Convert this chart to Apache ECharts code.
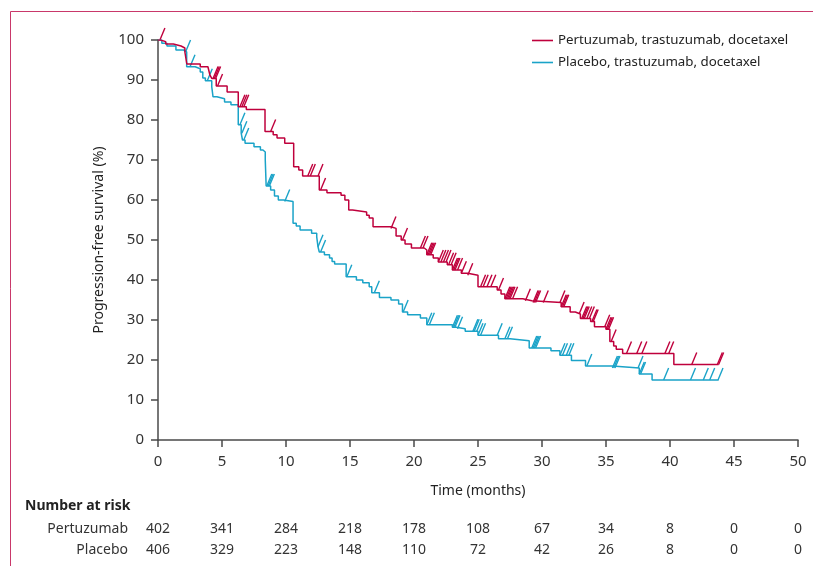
<!DOCTYPE html>
<html>
<head>
<meta charset="utf-8">
<script src="https://cdn.jsdelivr.net/npm/echarts@6/dist/echarts.min.js"></script>
<style>
html,body{margin:0;padding:0;background:#fff;}
#c{width:813px;height:566px;}
</style>
</head>
<body>
<div id="c"></div>
<script>
// ---- Data ----
const pertTimes = [0, 0.2, 0.6, 1.2, 1.8, 2.1, 2.25, 3.3, 3.9, 4.05, 4.2, 4.55, 5.4, 6.27, 6.9, 8.36, 9.0, 9.3, 9.9, 10.6, 11.0, 11.3, 12.6, 13.2, 14.3, 14.6, 14.9, 15.2, 16.3, 16.5, 16.8, 18.2, 18.6, 19.0, 19.3, 19.8, 20.8, 21.0, 21.5, 21.9, 22.6, 23.0, 23.7, 24.2, 25.0, 26.5, 26.8, 27.1, 28.5, 29.2, 31.5, 32.2, 32.6, 33.0, 33.8, 34.1, 35.0, 35.3, 35.6, 35.8, 36.3, 40.3, 43.8];
const pertSurv  = [100, 99.6, 99, 98.5, 98, 97, 94, 93.3, 92.9, 91.3, 90.4, 88.5, 87, 83.3, 82.6, 77.1, 76.3, 75.5, 74.2, 68.3, 67.5, 66, 62.5, 61.8, 61.2, 60, 57.5, 57, 56.2, 55.5, 53.3, 52.9, 51, 50, 49, 48, 47.5, 46.3, 45.5, 44.5, 43.8, 42.5, 41.7, 41.2, 38.3, 37.5, 36.5, 35.3, 34.8, 34.4, 33.3, 32, 31.5, 30.4, 29.6, 28.3, 27.7, 24.6, 23.5, 22.7, 21.6, 18.9, 18.9];
const pertCensor = [0.15, 4.3, 4.4, 4.5, 4.65, 6.4, 6.55, 6.7, 8.8, 11.7, 11.9, 12.5, 12.7, 18.2, 19.1, 20.5, 20.7, 21.0, 21.1, 21.2, 21.3, 21.9, 22.1, 22.3, 22.5, 22.7, 22.9, 23.0, 23.1, 23.2, 23.4, 23.7, 24.2, 25.2, 25.4, 25.7, 26.0, 26.6, 27.1, 27.2, 27.3, 27.4, 27.5, 27.7, 28.7, 29.3, 29.4, 29.5, 30.1, 31.4, 31.5, 31.6, 31.7, 32.9, 33.1, 33.2, 33.3, 33.5, 33.7, 33.9, 34.0, 34.9, 35.0, 35.1, 35.2, 35.4, 36.6, 37.4, 37.8, 39.6, 39.9, 41.7, 43.7, 43.8];

const placTimes = [0, 0.3, 0.7, 1.4, 2.0, 2.24, 2.9, 3.3, 3.5, 3.7, 4.2, 4.3, 4.6, 5.2, 5.7, 6.27, 6.5, 6.6, 6.8, 7.5, 8.0, 8.2, 8.38, 8.45, 8.8, 9.1, 9.4, 9.8, 10.55, 10.8, 11.1, 12.0, 12.4, 12.5, 12.6, 13.0, 13.4, 13.6, 13.8, 14.7, 15.5, 16.0, 16.5, 16.7, 17.3, 18.2, 18.8, 19.1, 19.5, 20.5, 21.0, 23.0, 23.3, 24.0, 25.0, 26.6, 27.5, 29.0, 30.7, 31.4, 32.3, 33.4, 35.5, 37.6, 38.6, 43.8];
const placSurv  = [100, 99.2, 98.5, 97.5, 97, 93.3, 92.8, 92, 90.5, 89.8, 88.3, 85.8, 85.3, 84.5, 83.8, 78.8, 76.7, 75, 74.2, 73.3, 72.5, 72, 70, 63.5, 62.5, 61, 60, 59.6, 54.2, 53.5, 52.5, 51.7, 50.8, 48.3, 47, 46.3, 45.5, 44.6, 44, 40.8, 40, 39.3, 38.3, 36.8, 35.6, 35, 34, 32, 31.3, 30.5, 28.8, 28.2, 27.8, 27.2, 26.2, 25.3, 24.8, 23, 22.3, 21.2, 19.9, 18.5, 18, 16.5, 15, 15];
const placCensor = [2.15, 2.5, 3.85, 6.4, 6.55, 6.7, 8.5, 8.6, 8.7, 9.9, 12.5, 12.7, 14.75, 16.9, 19.15, 21.0, 21.2, 23.0, 23.1, 23.2, 23.4, 24.6, 24.7, 24.9, 25.0, 25.2, 26.5, 27.1, 27.3, 29.2, 29.3, 29.4, 29.5, 31.4, 31.6, 31.9, 32.1, 33.5, 35.5, 35.6, 35.7, 37.5, 37.6, 37.7, 39.5, 41.6, 42.6, 43.1, 43.75];

const riskTimes = [0, 5, 10, 15, 20, 25, 30, 35, 40, 45, 50];
const pertRisk  = [402, 341, 284, 218, 178, 108, 67, 34, 8, 0, 0];
const placRisk  = [406, 329, 223, 148, 110, 72, 42, 26, 8, 0, 0];
const riskRows  = ['Pertuzumab', 'Placebo'];
const seriesNames = ['Pertuzumab, trastuzumab, docetaxel', 'Placebo, trastuzumab, docetaxel'];

// ---- Styles ----
const RED = '#bf003c';
const BLUE = '#1aa3c8';
const FONT = 'Noto Sans';
const AXIS = '#4a4a4a';
const TXT = '#333';

function survAt(times, surv, t) {
  let v = surv[0];
  for (let i = 0; i < times.length; i++) { if (times[i] <= t) v = surv[i]; else break; }
  return v;
}
const zip = (a, b) => a.map((t, i) => [t, b[i]]);

function censorSeries(name, times, surv, cens, color) {
  return {
    type: 'custom', name: name + ' censored', xAxisIndex: 0, yAxisIndex: 0,
    data: cens.map(t => [t, survAt(times, surv, t)]),
    encode: { x: 0, y: 1 }, z: 3,
    renderItem: function (params, api) {
      const p = api.coord([api.value(0), api.value(1)]);
      return { type: 'line', shape: { x1: p[0], y1: p[1], x2: p[0] + 5, y2: p[1] - 12 },
               style: { stroke: color, lineWidth: 1.4 } };
    }
  };
}
function riskSeries(rowIdx, counts) {
  return {
    type: 'custom', xAxisIndex: 1, yAxisIndex: 1,
    data: riskTimes.map((t, i) => [t, rowIdx, counts[i]]),
    encode: { x: 0, y: 1 },
    renderItem: function (params, api) {
      const p = api.coord([api.value(0), api.value(1)]);
      return { type: 'text', x: p[0], y: p[1],
               style: { text: String(api.value(2)), fill: TXT, fontSize: 14, fontFamily: FONT,
                        align: 'center', verticalAlign: 'middle', textAlign: 'center', textVerticalAlign: 'middle' } };
    }
  };
}

const chart = echarts.init(document.getElementById('c'), null, { renderer: 'canvas' });
chart.setOption({
  animation: false,
  backgroundColor: '#fff',
  textStyle: { fontFamily: FONT },
  grid: [
    { left: 158, top: 40, width: 640, height: 400 },
    { left: 158, top: 519, width: 640, height: 42 }
  ],
  legend: {
    data: seriesNames, orient: 'vertical', left: 527, top: 29,
    icon: 'rect', itemWidth: 21, itemHeight: 1.6, itemGap: 9,
    textStyle: { fontSize: 13.3, color: '#222', fontFamily: FONT, padding: [0, 0, 0, 0] }
  },
  xAxis: [
    { type: 'value', gridIndex: 0, min: 0, max: 50, interval: 5,
      name: 'Time (months)', nameLocation: 'middle', nameGap: 44,
      nameTextStyle: { fontSize: 14, color: '#222', fontFamily: FONT },
      axisLine: { lineStyle: { color: AXIS, width: 1.5 } },
      axisTick: { length: 7, lineStyle: { color: AXIS, width: 1.5 } },
      axisLabel: { fontSize: 15, color: TXT, margin: 14, fontFamily: FONT },
      splitLine: { show: false } },
    { type: 'value', gridIndex: 1, min: 0, max: 50, show: false }
  ],
  yAxis: [
    { type: 'value', gridIndex: 0, min: 0, max: 100, interval: 10,
      name: 'Progression-free survival (%)', nameLocation: 'middle', nameGap: 52,
      nameTextStyle: { fontSize: 14, color: '#222', fontFamily: FONT },
      axisLine: { show: true, lineStyle: { color: AXIS, width: 1.5 } },
      axisTick: { show: true, length: 7, lineStyle: { color: AXIS, width: 1.5 } },
      axisLabel: { fontSize: 15, color: TXT, margin: 14, fontFamily: FONT },
      splitLine: { show: false } },
    { type: 'category', gridIndex: 1, data: riskRows, inverse: true,
      axisLine: { show: false }, axisTick: { show: false },
      axisLabel: { fontSize: 14, color: TXT, margin: 30, fontFamily: FONT } }
  ],
  graphic: [
    { type: 'polyline', shape: { points: [[10.5, 566], [10.5, 11.5], [813, 11.5]] },
      style: { stroke: '#c9386a', lineWidth: 1, fill: null } },
    { type: 'text', left: 25, top: 499,
      style: { text: 'Number at risk', fontSize: 14, fontWeight: 'bold', fill: '#222', fontFamily: FONT } }
  ],
  series: [
    { name: seriesNames[0], type: 'line', step: 'end', showSymbol: false, symbol: 'none',
      data: zip(pertTimes, pertSurv), lineStyle: { color: RED, width: 1.5 }, itemStyle: { color: RED }, z: 4 },
    { name: seriesNames[1], type: 'line', step: 'end', showSymbol: false, symbol: 'none',
      data: zip(placTimes, placSurv), lineStyle: { color: BLUE, width: 1.5 }, itemStyle: { color: BLUE }, z: 3 },
    censorSeries(seriesNames[0], pertTimes, pertSurv, pertCensor, RED),
    censorSeries(seriesNames[1], placTimes, placSurv, placCensor, BLUE),
    riskSeries(0, pertRisk),
    riskSeries(1, placRisk)
  ]
});
</script>
</body>
</html>
